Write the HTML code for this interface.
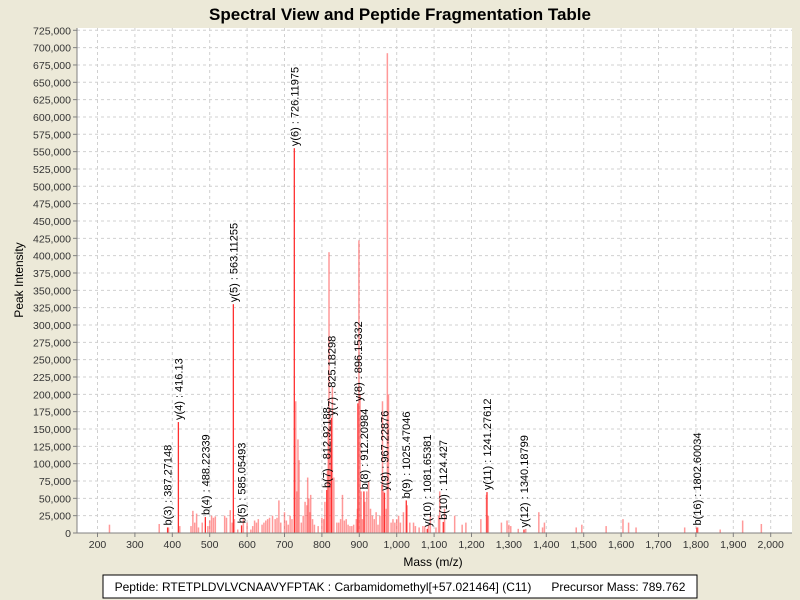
<!DOCTYPE html>
<html><head><meta charset="utf-8">
<style>
html,body{margin:0;padding:0;background:#ece9d8;}
svg{display:block;font-family:"Liberation Sans",sans-serif;}
</style></head>
<body>
<svg id="chart" width="800" height="600" xmlns="http://www.w3.org/2000/svg">
<rect x="0" y="0" width="800" height="600" fill="#ece9d8"/>
<text x="400" y="20" text-anchor="middle" font-size="17" font-weight="bold" fill="#000">Spectral View and Peptide Fragmentation Table</text>
<rect x="77" y="28" width="715" height="505" fill="#fff"/>
<g id="grid"></g>
<g id="bars"></g>
<g id="labels"></g>
<g id="axes"></g>
<text x="433" y="566" text-anchor="middle" font-size="12">Mass (m/z)</text>
<text transform="translate(23,280) rotate(-90)" text-anchor="middle" font-size="12">Peak Intensity</text>
<rect x="103" y="575" width="594" height="23" fill="#fff" stroke="#000" stroke-width="1"/>
<text x="400" y="591" text-anchor="middle" font-size="12" xml:space="preserve">Peptide: RTETPLDVLVCNAAVYFPTAK : Carbamidomethyl[+57.021464] (C11)      Precursor Mass: 789.762</text>
</svg>
<script>
const xTicks=[200,300,400,500,600,700,800,900,1000,1100,1200,1300,1400,1500,1600,1700,1800,1900,2000];
const yTicks=[0,25000,50000,75000,100000,125000,150000,175000,200000,225000,250000,275000,300000,325000,350000,375000,400000,425000,450000,475000,500000,525000,550000,575000,600000,625000,650000,675000,700000,725000];
const peakMz=[232,365,390,420,450,455,460,465,470,480,495,500,505,510,515,540,545,555,560,566,575,590,600,610,615,620,625,630,640,645,650,655,660,668,675,680,685,690,700,705,710,715,720,730,733,736,739,745,750,755,760,762,765,768,770,775,780,790,800,805,808,815,817,819,822,828,832,840,845,850,855,860,865,870,875,880,885,892,895,899,902,905,908,915,920,925,930,935,940,945,950,955,960,962,965,972,975,978,985,990,995,1000,1005,1010,1018,1028,1035,1045,1050,1060,1070,1075,1085,1090,1105,1112,1115,1128,1155,1175,1185,1225,1240,1245,1280,1295,1300,1305,1325,1345,1380,1390,1395,1480,1495,1560,1605,1620,1640,1770,1805,1865,1925,1975];
const peakInt=[12000,13000,8000,10000,10000,32000,15000,28000,8000,15000,10000,18000,25000,22000,24000,25000,22000,33000,15000,20000,5000,20000,15000,5000,10000,18000,15000,20000,12000,15000,18000,20000,22000,25000,20000,22000,47000,15000,30000,18000,12000,25000,20000,190000,60000,135000,105000,15000,25000,45000,40000,80000,50000,30000,55000,20000,12000,10000,22000,20000,45000,90000,150000,405000,120000,210000,80000,15000,15000,20000,55000,18000,20000,12000,10000,10000,12000,20000,35000,422000,200000,60000,20000,45000,60000,75000,35000,25000,20000,30000,12000,25000,70000,190000,60000,35000,692000,200000,15000,20000,15000,20000,25000,15000,30000,40000,15000,15000,10000,8000,10000,10000,12000,25000,8000,25000,60000,35000,25000,12000,15000,20000,55000,25000,15000,18000,12000,10000,6000,6000,30000,8000,15000,8000,12000,10000,20000,15000,8000,8000,8000,5000,18000,13000];
const annMz=[387.27148,416.13,488.22339,563.11255,585.05493,726.11975,812.92188,825.18298,896.15332,912.20984,967.22876,1025.47046,1081.65381,1124.427,1241.27612,1340.18799,1802.60034];
const annInt=[8000,160000,23000,330000,11000,555000,62000,166000,187000,60000,58000,47000,6000,16000,59000,5000,8000];
const annLabel=["b(3)","y(4)","b(4)","y(5)","b(5)","y(6)","b(7)","y(7)","y(8)","b(8)","y(9)","b(9)","y(10)","b(10)","y(11)","y(12)","b(16)"];
const annText=["387.27148","416.13","488.22339","563.11255","585.05493","726.11975","812.92188","825.18298","896.15332","912.20984","967.22876","1025.47046","1081.65381","1124.427","1241.27612","1340.18799","1802.60034"];

const NS="http://www.w3.org/2000/svg";
const L=77,R=792,T=28,B=533;
function xs(v){return 97.5+(v-200)*0.374;}
function ys(v){return B-v*(B-30.3)/725000;}
function mk(tag,attrs,parent){const e=document.createElementNS(NS,tag);for(const k in attrs)e.setAttribute(k,attrs[k]);parent.appendChild(e);return e;}
const grid=document.getElementById('grid'),bars=document.getElementById('bars'),labels=document.getElementById('labels'),axes=document.getElementById('axes');
xTicks.forEach(v=>{
  const g=mk('line',{x1:xs(v),x2:xs(v),y1:T,y2:B,stroke:'#d0d0d0','stroke-dasharray':'3,3','stroke-width':1},grid);
  
  
  const t=mk('line',{x1:xs(v),x2:xs(v),y1:B,y2:B+4,stroke:'#808080'},axes);
  
  
  const tx=mk('text',{x:xs(v),y:B+15,'text-anchor':'middle','font-size':'10.5',fill:'#333'},axes);
  tx.textContent=v.toLocaleString('en-US');
  
  
});
yTicks.forEach(v=>{
  const g=mk('line',{x1:L,x2:R,y1:ys(v),y2:ys(v),stroke:'#d0d0d0','stroke-dasharray':'3,3','stroke-width':1},grid);
  
  
  const t=mk('line',{x1:L-4,x2:L,y1:ys(v),y2:ys(v),stroke:'#808080'},axes);
  
  
  const tx=mk('text',{x:L-6,y:ys(v)+4,'text-anchor':'end','font-size':'10.5',fill:'#333'},axes);
  tx.textContent=v.toLocaleString('en-US');
  
  
});
peakMz.forEach((m,i)=>{
  const b=mk('rect',{x:xs(m)-0.75,y:ys(peakInt[i]),width:1.5,height:B-ys(peakInt[i]),fill:'rgba(255,70,70,0.55)'},bars);
  
  
});
annMz.forEach((m,i)=>{
  const b=mk('rect',{x:xs(m)-0.6,y:ys(annInt[i]),width:1.3,height:B-ys(annInt[i]),fill:'#ff3030'},bars);
  
  
  const px=xs(m)+4, py=ys(annInt[i])-2;
  const t=mk('text',{transform:`translate(${px},${py}) rotate(-90)`,'font-size':'11',fill:'#000'},labels);
  t.textContent=annLabel[i]+' : '+annText[i];
  
  
});
const ax1=mk('line',{x1:L,x2:L,y1:T,y2:B,stroke:'#808080'},axes);


const ax2=mk('line',{x1:L,x2:R,y1:B,y2:B,stroke:'#808080'},axes);


</script>
</body></html>
